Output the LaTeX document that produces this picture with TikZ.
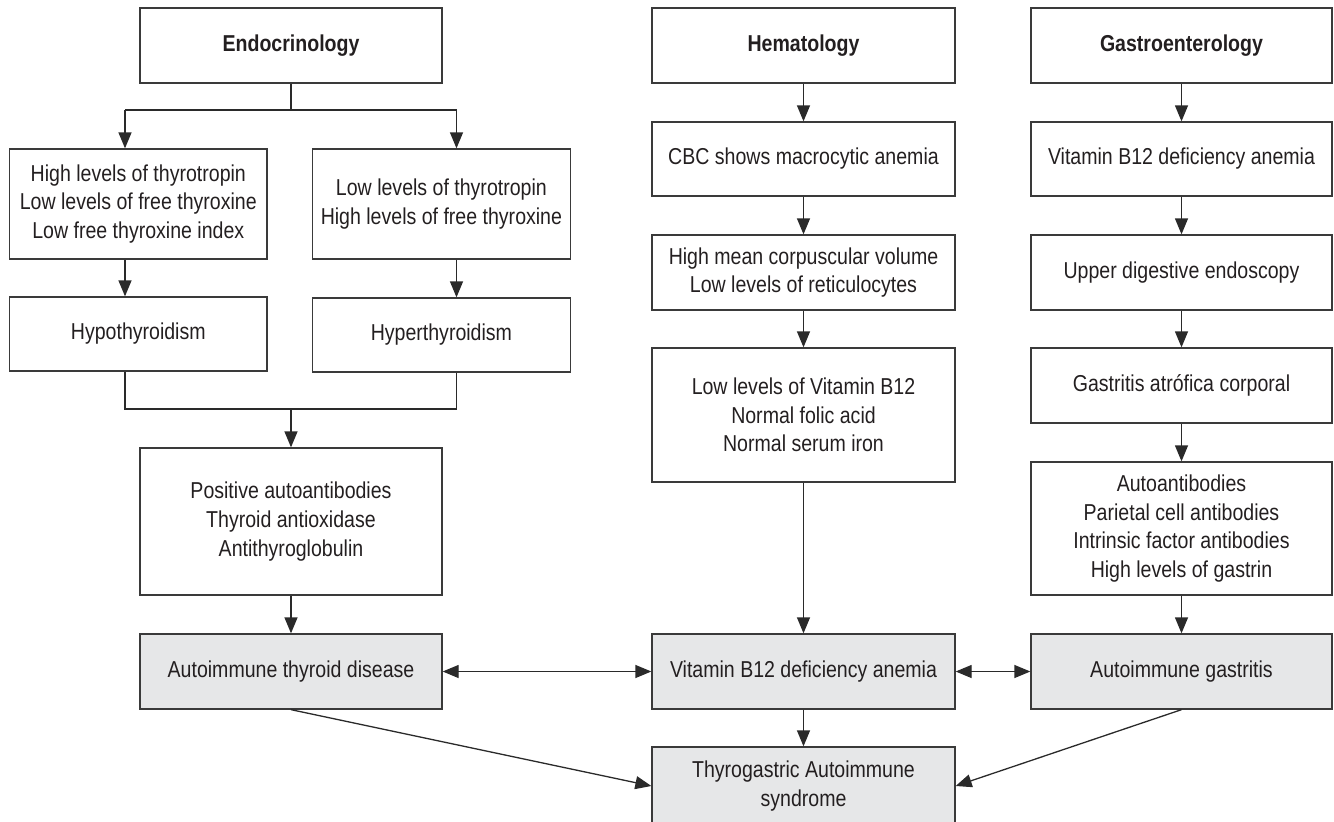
\documentclass[tikz,border=0pt]{standalone}
\usepackage{fontspec}
\setmainfont{Liberation Sans}[FakeStretch=0.85]
\usetikzlibrary{arrows.meta}
\definecolor{bordercol}{HTML}{3A3A3A}
\definecolor{fillcol}{HTML}{E6E7E8}
\definecolor{textcol}{HTML}{231F20}
\definecolor{linecol}{HTML}{2A2A2A}
\tikzset{
  box/.style={draw=bordercol, line width=1.3pt, inner sep=0pt, align=center,
    text=textcol, font=\fontsize{23}{28.7}\selectfont},
  graybox/.style={box, fill=fillcol},
  titlebox/.style={box, font=\fontsize{23}{28.7}\selectfont\bfseries},
  conn/.style={draw=linecol, line width=1.3pt},
  arr/.style={conn, -{Triangle[length=16pt,width=13pt]}},
  darr/.style={conn, {Triangle[length=16pt,width=13pt]}-{Triangle[length=16pt,width=13pt]}}
}
\begin{document}
\begin{tikzpicture}[x=1pt,y=-1pt]
\useasboundingbox (0,0) rectangle (1334,822);
% top row
\node[titlebox, minimum width=302pt, minimum height=75pt] (endo) at (291,45.5) {Endocrinology};
\node[titlebox, minimum width=303pt, minimum height=75pt] (hema) at (803.5,45.5) {Hematology};
\node[titlebox, minimum width=301pt, minimum height=75pt] (gast) at (1181.5,45.5) {Gastroenterology};
% endocrinology column
\node[box, minimum width=257.5pt, minimum height=110pt] (high) at (138.3,204) {High levels of thyrotropin\\Low levels of free thyroxine\\Low free thyroxine index};
\node[box, minimum width=257.5pt, minimum height=110pt] (low) at (441.4,204) {Low levels of thyrotropin\\High levels of free thyroxine};
\node[box, minimum width=257.5pt, minimum height=74pt] (hypo) at (138.3,334) {Hypothyroidism};
\node[box, minimum width=257.5pt, minimum height=74pt] (hyper) at (441.4,335) {Hyperthyroidism};
\node[box, minimum width=302pt, minimum height=147pt] (pos) at (291,521.5) {Positive autoantibodies\\Thyroid antioxidase\\Antithyroglobulin};
\node[graybox, minimum width=302pt, minimum height=75pt] (ait) at (291,671.5) {Autoimmune thyroid disease};
% hematology column
\node[box, minimum width=303pt, minimum height=74pt] (cbc) at (803.5,159) {CBC shows macrocytic anemia};
\node[box, minimum width=303pt, minimum height=75pt] (hmcv) at (803.5,272.5) {High mean corpuscular volume\\Low levels of reticulocytes};
\node[box, minimum width=303pt, minimum height=134pt] (lowb) at (803.5,415) {Low levels of Vitamin B12\\Normal folic acid\\Normal serum iron};
\node[graybox, minimum width=303pt, minimum height=75pt] (vb) at (803.5,671.5) {Vitamin B12 deficiency anemia};
\node[graybox, minimum width=303pt, minimum height=78pt] (tg) at (803.5,786) {Thyrogastric Autoimmune\\syndrome};
% gastroenterology column
\node[box, minimum width=301pt, minimum height=74pt] (vbg) at (1181.5,159) {Vitamin B12 deficiency anemia};
\node[box, minimum width=301pt, minimum height=75pt] (upper) at (1181.5,272.5) {Upper digestive endoscopy};
\node[box, minimum width=301pt, minimum height=75pt] (gatr) at (1181.5,385.5) {Gastritis atrófica corporal};
\node[box, minimum width=301pt, minimum height=133pt] (auto) at (1181.5,528.5) {Autoantibodies\\Parietal cell antibodies\\Intrinsic factor antibodies\\High levels of gastrin};
\node[graybox, minimum width=301pt, minimum height=75pt] (ag) at (1181.5,671.5) {Autoimmune gastritis};
% branch coordinates
\coordinate (bL) at (125,110);
\coordinate (bR) at (456.5,110);
\coordinate (mL) at (125,409);
\coordinate (mR) at (456.5,409);
\coordinate (mC) at (291,409);
% endocrinology connectors
\draw[conn] (endo.south) -- (endo.south |- bL);
\draw[conn] (bL) -- (bR);
\draw[arr] (bL) -- (bL |- high.north);
\draw[arr] (bR) -- (bR |- low.north);
\draw[arr] (bL |- high.south) -- (bL |- hypo.north);
\draw[arr] (bR |- low.south) -- (bR |- hyper.north);
\draw[conn] (bL |- hypo.south) -- (mL) -- (mR) -- (bR |- hyper.south);
\draw[arr] (mC) -- (pos.north);
\draw[arr] (pos) -- (ait);
% hematology connectors
\draw[arr] (hema) -- (cbc);
\draw[arr] (cbc) -- (hmcv);
\draw[arr] (hmcv) -- (lowb);
\draw[arr] (lowb) -- (vb);
\draw[arr] (vb) -- (tg);
% gastro connectors
\draw[arr] (gast) -- (vbg);
\draw[arr] (vbg) -- (upper);
\draw[arr] (upper) -- (gatr);
\draw[arr] (gatr) -- (auto);
\draw[arr] (auto) -- (ag);
% horizontal links
\draw[darr] (ait) -- (vb);
\draw[darr] (vb) -- (ag);
% diagonals
\draw[arr] (ait.south) -- (tg.west);
\draw[arr] (ag.south) -- (tg.east);
\end{tikzpicture}
\end{document}
